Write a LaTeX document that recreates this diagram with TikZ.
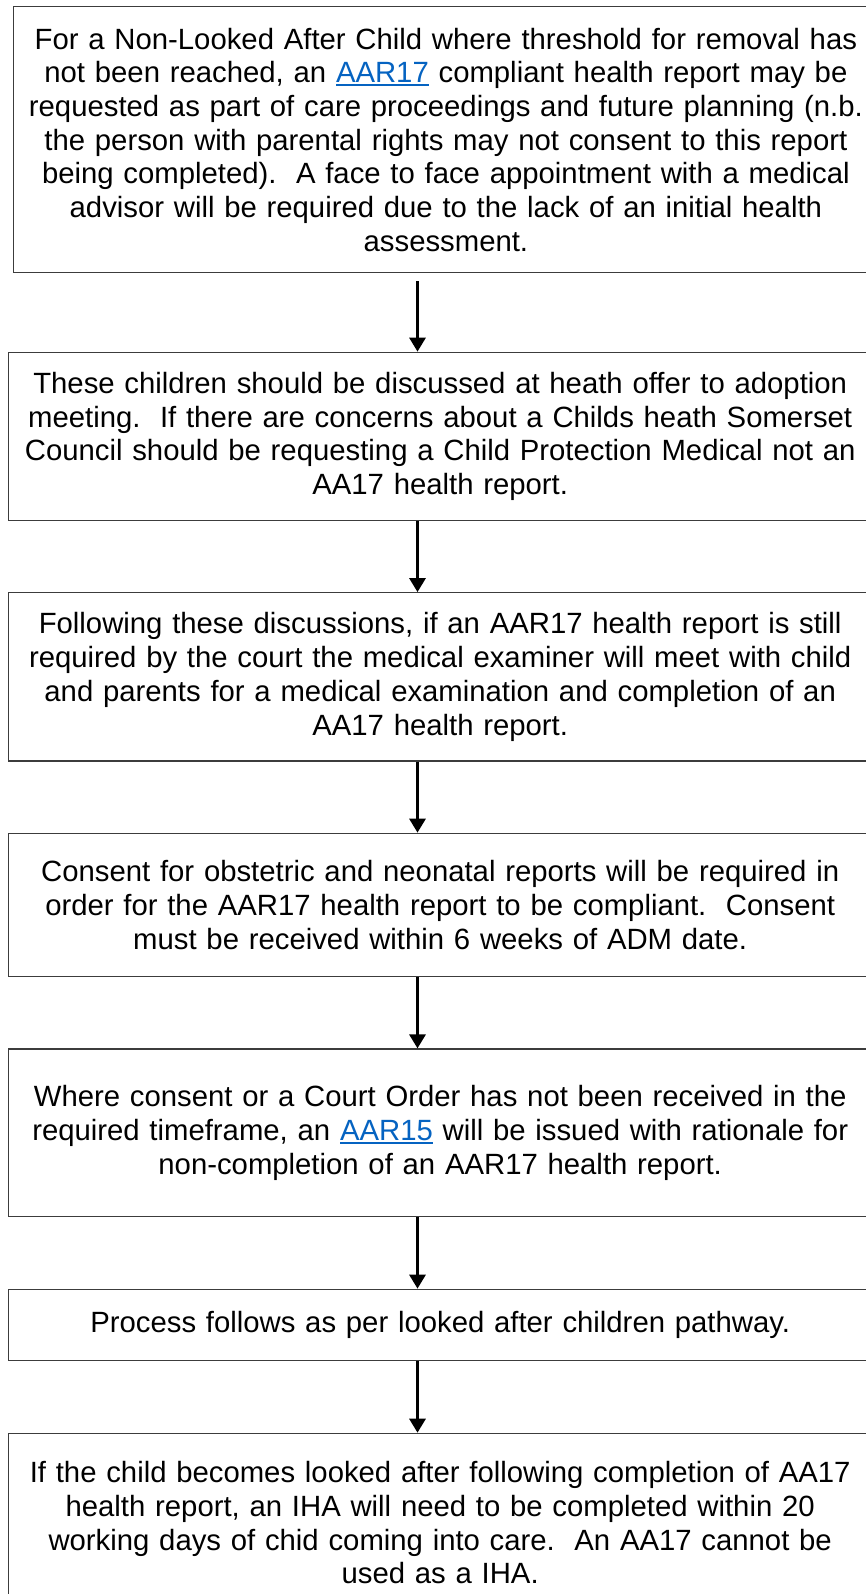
\documentclass[tikz,border=0pt]{standalone}
\usepackage{fontspec}
\setmainfont{Liberation Sans}
\usepackage{xcolor}
\usepackage{tikz}
\usetikzlibrary{arrows.meta,calc,positioning}
\definecolor{linkblue}{HTML}{0563C1}
\definecolor{boxline}{HTML}{3C3C3C}
\newcommand{\hlink}[1]{\textcolor{linkblue}{\setbox0=\hbox{#1}\rlap{\rule[-3.5pt]{\wd0}{2pt}}\box0}}

\begin{document}
\begin{tikzpicture}[x = 1pt, y = -1pt]
	\tikzstyle{every node} = [rectangle, draw = boxline, line width = 1.3pt, align = center, inner sep = 0pt, text width = 850pt, font = \fontsize{29.3}{33.7}\selectfont]
	\tikzstyle{arr} = [draw, line width = 3pt, -{Triangle[width = 16pt, length = 14pt]}]
\clip (0, 0) rectangle (866, 1594);
\node[minimum width = 864.2pt, minimum height = 266pt] (1) at (445.9, 139.7) {For a Non-Looked After Child where threshold for removal has\\ not been reached, an \hlink{AAR17} compliant health report may be\\ requested as part of care proceedings and future planning (n.b.\\ the person with parental rights may not consent to this report\\ being completed).\ \ A face to face appointment with a medical\\ advisor will be required due to the lack of an initial health\\ assessment.};
\node[minimum width = 863.7pt, minimum height = 168.4pt] (2) at (440.2, 436.5) {These children should be discussed at heath offer to adoption\\ meeting.\ \ If there are concerns about a Childs heath Somerset\\ Council should be requesting a Child Protection Medical not an\\ AA17 health report.};
\node[minimum width = 863.7pt, minimum height = 168.3pt] (3) at (440.2, 676.9) {Following these discussions, if an AAR17 health report is still\\ required by the court the medical examiner will meet with child\\ and parents for a medical examination and completion of an\\ AA17 health report.};
\node[minimum width = 863.7pt, minimum height = 143.4pt] (4) at (440.2, 905) {Consent for obstetric and neonatal reports will be required in\\ order for the AAR17 health report to be compliant.\ \ Consent\\ must be received within 6 weeks of ADM date.};
\node[minimum width = 863.7pt, minimum height = 167.7pt] (5) at (440.2, 1132.9) {Where consent or a Court Order has not been received in the\\ required timeframe, an \hlink{AAR15} will be issued with rationale for\\ non-completion of an AAR17 health report.};
\node[minimum width = 863.7pt, minimum height = 71.4pt] (6) at (440.2, 1325) {Process follows as per looked after children pathway.};
\node[minimum width = 863.7pt, minimum height = 178.7pt] (7) at (440.2, 1522.7) {If the child becomes looked after following completion of AA17\\ health report, an IHA will need to be completed within 20\\ working days of chid coming into care.\ \ An AA17 cannot be\\ used as a IHA.};
	\coordinate (ax) at (417.5, 0);
	\path[arr, shorten <= 8pt] (1.south -| ax) -- (2.north -| ax);
	\path[arr] (2.south -| ax) -- (3.north -| ax);
	\path[arr] (3.south -| ax) -- (4.north -| ax);
	\path[arr] (4.south -| ax) -- (5.north -| ax);
	\path[arr] (5.south -| ax) -- (6.north -| ax);
	\path[arr] (6.south -| ax) -- (7.north -| ax);
\end{tikzpicture}
\end{document}
